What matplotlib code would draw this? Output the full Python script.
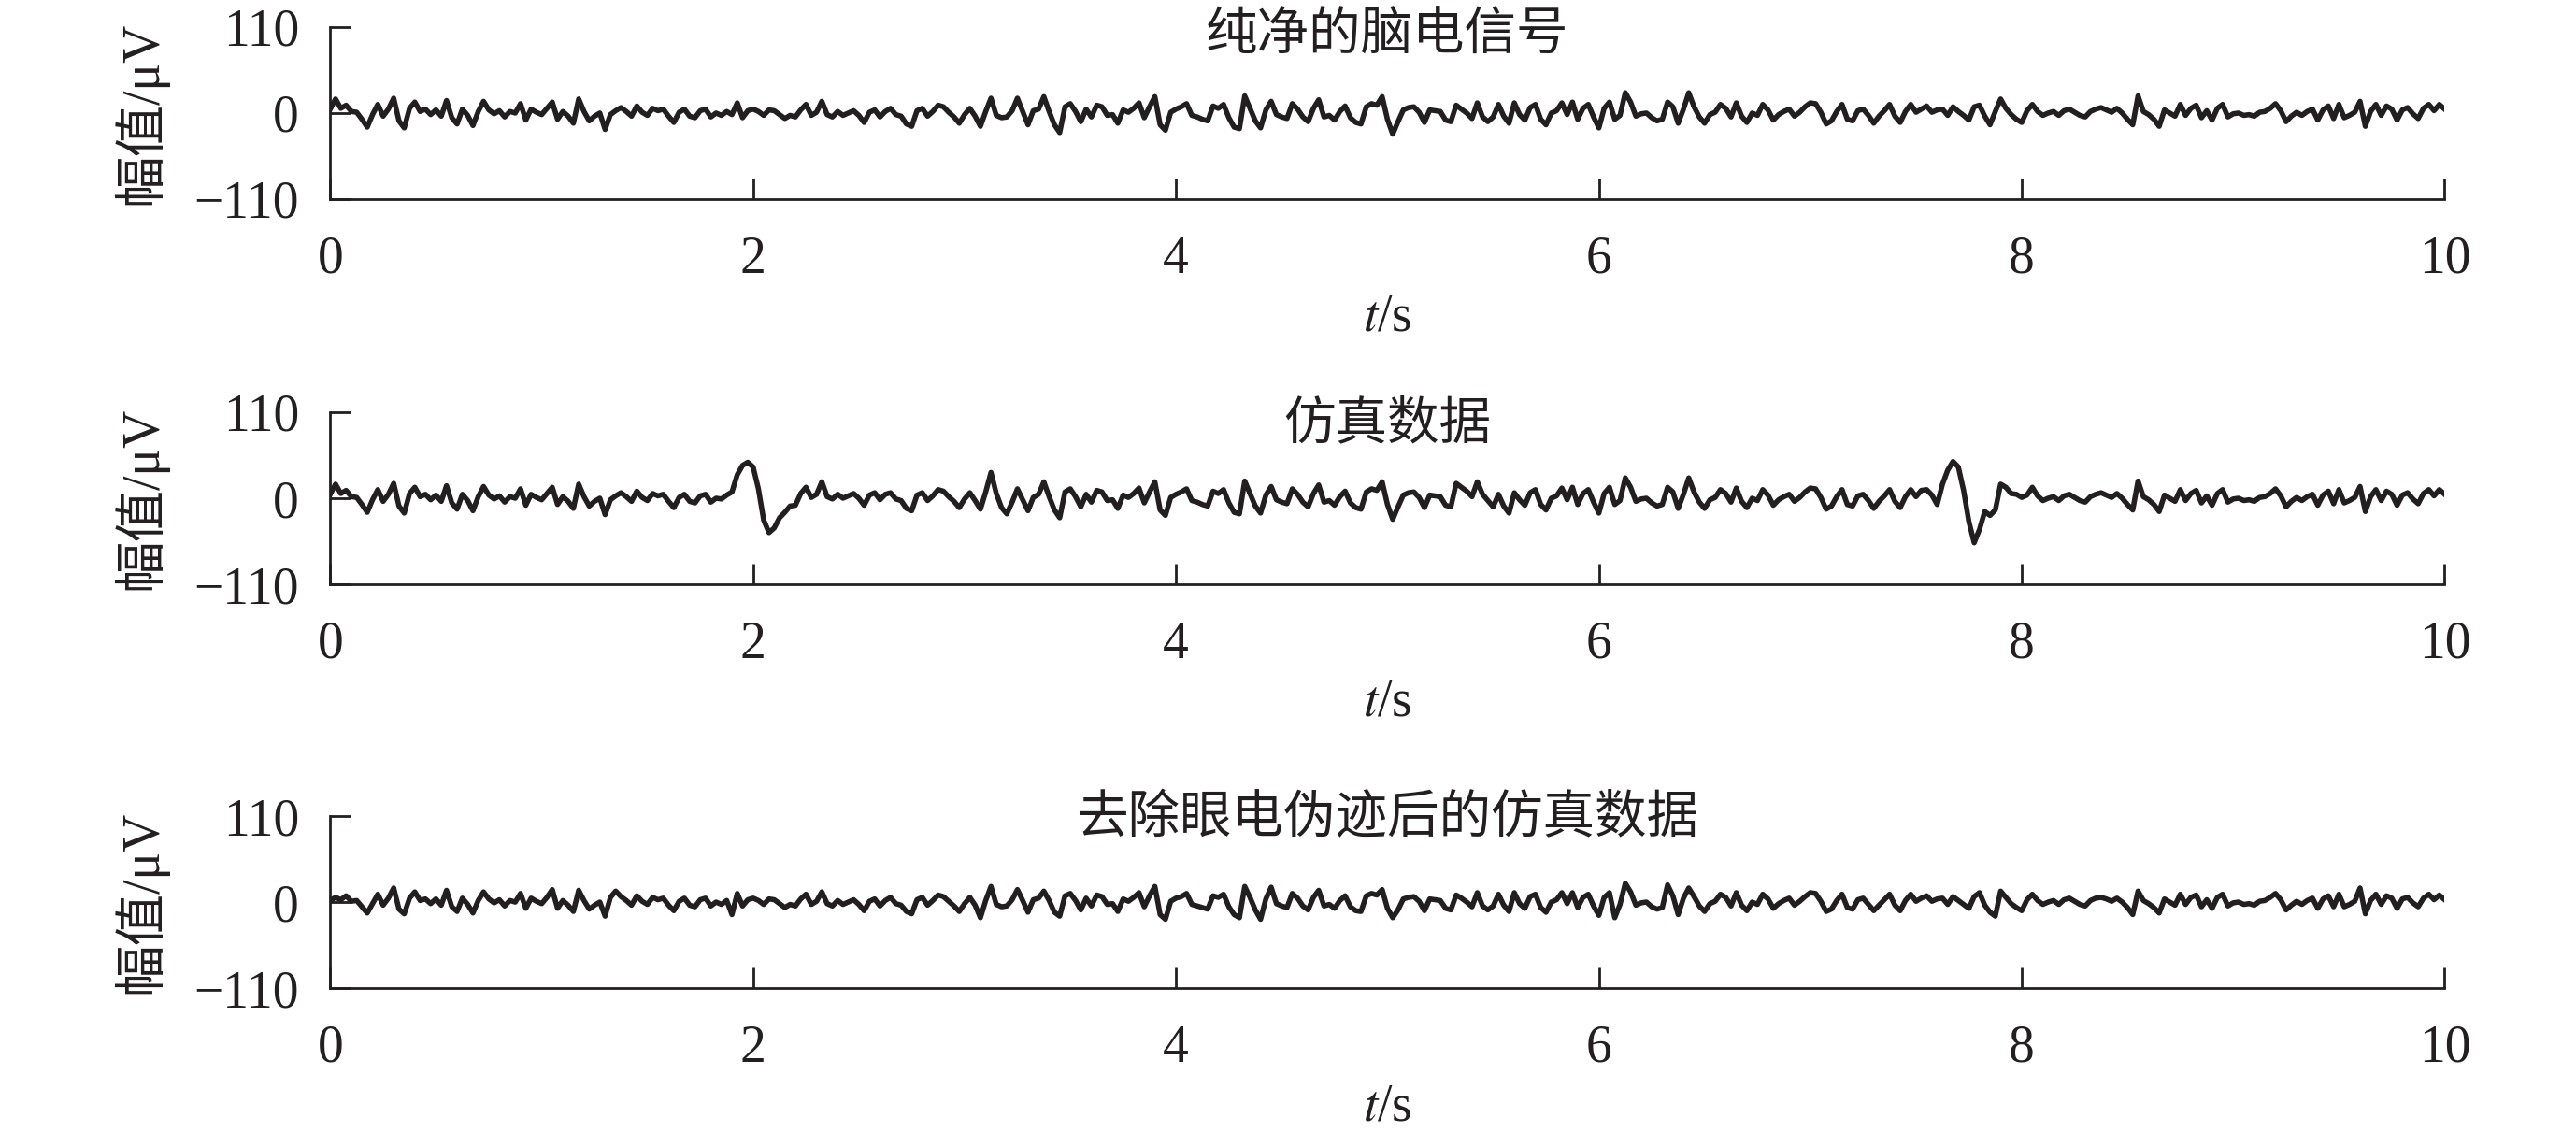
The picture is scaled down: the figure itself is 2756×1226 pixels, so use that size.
import numpy as np
import matplotlib
matplotlib.use('Agg')
import matplotlib.pyplot as plt

plt.rcParams['font.family'] = ['Liberation Serif', 'Noto Sans CJK SC']
plt.rcParams['mathtext.fontset'] = 'stix'

fs = 40  # samples per second of the traced curves

# clean EEG (uV)
eeg_clean = [5, 18, 6, 10, 2, 1, -8, -18, -2, 11,
             -4, 5, 19, -10, -19, 6, 14, 2, 5, -2,
             4, -4, 16, -6, -14, 5, -3, -16, 2, 15,
             4, -1, 3, -5, 2, 0, 12, -9, 5, 1,
             -2, 6, 14, -8, 2, -4, -13, 18, 2, -10,
             -4, 0, -21, -2, 3, 7, 2, -4, 9, 1,
             -3, 6, 3, 5, -4, -12, 1, 5, -4, -6,
             3, 5, -5, 0, -3, 2, -2, 13, -6, 3,
             5, 2, -3, 4, 3, -2, -7, -3, -5, 4,
             11, -3, 1, 15, -2, -5, 2, -3, 0, 3,
             -3, -12, 1, 4, -5, 2, 6, -2, -4, -14,
             -17, 3, 6, -4, 2, 10, 8, 1, -5, -13,
             -2, 6, -4, -17, 2, 19, -3, -6, -5, 3,
             19, 2, -15, 3, 5, 21, 2, -15, -25, 8,
             12, 2, -11, 5, -5, 10, 8, -3, -2, -13,
             4, 1, 6, 13, -6, 8, 21, -15, -22, 1,
             5, 8, 12, -3, -5, -8, -10, 9, 6, 11,
             -6, -18, -20, 22, 6, -10, -19, 4, 15, -2,
             -5, -7, 12, 5, -5, -11, 6, 17, -5, -3,
             -9, 2, 9, -6, -12, -14, 8, 12, 10, 21,
             -8, -27, -11, 4, 7, 8, 1, -12, 4, 3,
             2, -9, -11, 10, 5, 0, -7, 13, -5, -11,
             -5, 11, -4, -13, 13, -2, -9, 7, 11, -8,
             -15, 0, 3, 13, -2, 14, -8, 6, 11, -5,
             -19, 6, 14, -8, -3, 26, 14, -4, -1, 0,
             -6, -10, -8, 14, 8, -13, 5, 26, 8, -5,
             -13, -2, 1, 11, 6, -5, 13, -4, -12, 0,
             -3, 11, 4, -9, -2, 2, 5, -4, 1, 8,
             13, 12, 1, -14, -10, 2, 11, -8, -10, 3,
             5, -3, -13, -4, 3, 11, -4, -12, 2, 11,
             1, 5, 9, 1, 4, 5, -3, 8, 2, -3,
             -9, 8, 10, -4, -15, 2, 18, 6, -2, -8,
             -12, 3, 11, 2, -3, 0, 2, -3, 3, 5,
             1, -3, -5, 2, 5, 7, 4, 1, 6, 0,
             -8, -15, 22, 2, -2, -8, -17, 4, 0, -4,
             11, -3, 6, 10, -6, 3, -9, 6, 11, -5,
             -1, 0, -3, -2, -4, 1, 2, 6, 12, 3,
             -11, -4, 1, -3, 2, 5, -9, 4, 9, -7,
             11, -6, -3, 1, 15, -17, 2, 11, -3, 9,
             5, -9, 4, 7, -1, -7, 6, 11, 3, 11,
             5]

# simulated data: EEG with two eye blinks (uV)
eeg_sim = [5, 18, 6, 10, 2, 1, -8, -18, -2, 11,
           -4, 5, 19, -10, -19, 6, 14, 2, 5, -2,
           4, -4, 16, -6, -14, 5, -3, -16, 2, 15,
           4, -1, 3, -5, 2, 0, 12, -9, 5, 1,
           -2, 6, 14, -8, 2, -4, -13, 18, 2, -10,
           -4, 0, -21, -2, 3, 7, 2, -4, 9, 1,
           -3, 6, 3, 5, -4, -12, 1, 5, -4, -6,
           3, 5, -5, 0, -1, 4, 8, 30, 42, 46,
           40, 12, -28, -44, -38, -25, -18, -10, -9, 6,
           14, 1, 5, 21, 2, -1, 5, 0, 3, 6,
           0, -9, 4, 7, -2, 5, 7, -1, -3, -13,
           -16, 4, 7, -3, 3, 11, 9, 2, -4, -12,
           -1, 7, -3, -14, 8, 33, 6, -12, -20, -5,
           12, -2, -16, 1, 5, 21, 2, -15, -25, 8,
           12, 2, -11, 5, -5, 10, 8, -3, -2, -13,
           4, 1, 6, 13, -6, 8, 21, -15, -22, 1,
           5, 8, 12, -3, -5, -8, -10, 9, 6, 11,
           -6, -18, -20, 22, 6, -10, -19, 4, 15, -2,
           -5, -7, 12, 5, -5, -11, 6, 17, -5, -3,
           -9, 2, 9, -6, -12, -14, 8, 12, 10, 21,
           -8, -27, -11, 4, 7, 8, 1, -12, 4, 3,
           2, -9, -11, 19, 14, 9, 2, 21, 5, -3,
           -11, 5, -10, -19, 7, -2, -9, 7, 11, -8,
           -15, 0, 3, 13, -2, 14, -8, 6, 11, -5,
           -19, 6, 14, -8, -3, 26, 14, -4, -1, 0,
           -6, -10, -8, 14, 8, -13, 5, 26, 8, -5,
           -13, -2, 1, 11, 6, -5, 13, -4, -12, 0,
           -3, 11, 4, -9, -2, 2, 5, -4, 1, 8,
           13, 12, 1, -14, -10, 2, 11, -8, -10, 3,
           5, -3, -13, -4, 3, 11, -4, -12, 2, 11,
           2, 10, 11, 4, -8, 18, 36, 47, 40, 10,
           -30, -57, -40, -17, -22, -15, 18, 14, 6, 5,
           1, 4, 14, 3, -3, 0, 2, -3, 3, 5,
           1, -3, -5, 2, 5, 7, 4, 1, 6, 0,
           -8, -15, 22, 2, -2, -8, -17, 4, 0, -4,
           11, -3, 6, 10, -6, 3, -9, 6, 11, -5,
           -1, 0, -3, -2, -4, 1, 2, 6, 12, 3,
           -11, -4, 1, -3, 2, 5, -9, 4, 9, -7,
           11, -6, -3, 1, 15, -17, 2, 11, -3, 9,
           5, -9, 4, 7, -1, -7, 6, 11, 3, 11,
           5]

# simulated data after removing the ocular artifacts (uV)
eeg_rec = [2, 6, 3, 8, 1, 2, -6, -14, -2, 10,
           -4, 5, 18, -9, -15, 5, 13, 2, 4, -2,
           4, -4, 15, -6, -12, 5, -3, -14, 2, 13,
           4, -1, 3, -5, 2, 0, 11, -8, 5, 1,
           -2, 6, 16, -8, 2, -4, -12, 15, 2, -9,
           -4, 0, -18, 6, 14, 7, 2, -4, 8, 1,
           -3, 6, 3, 5, -4, -11, 1, 5, -4, -6,
           3, 5, -5, 0, -3, 2, -16, 11, -5, 3,
           5, 2, -3, 4, 3, -2, -7, -3, -5, 4,
           10, -3, 1, 13, -2, -5, 2, -3, 0, 3,
           -3, -11, 1, 4, -5, 2, 6, -2, -4, -12,
           -15, 3, 6, -4, 2, 9, 7, 1, -5, -12,
           -2, 6, -4, -20, 2, 20, -3, -6, -5, 3,
           16, 2, -13, 3, 5, 14, 2, -13, -18, 8,
           11, 2, -10, 5, -5, 9, 7, -3, -2, -12,
           4, 1, 6, 12, -6, 8, 20, -16, -22, 1,
           5, 7, 11, -3, -5, -7, -9, 8, 6, 10,
           -6, -16, -20, 20, 6, -10, -22, 4, 19, -2,
           -5, -7, 11, 5, -5, -10, 6, 15, -5, -3,
           -8, 2, 8, -6, -11, -12, 8, 11, 9, 16,
           -8, -20, -10, 4, 6, 7, 1, -11, 4, 3,
           2, -8, -10, 9, 5, 0, -6, 12, -5, -10,
           -5, 10, -4, -12, 12, -2, -8, 7, 10, -7,
           -13, 0, 3, 12, -2, 12, -7, 6, 10, -5,
           -17, 6, 12, -20, -3, 24, 13, -4, -1, 0,
           -6, -9, -7, 22, 8, -16, 5, 18, 7, -5,
           -12, -2, 1, 10, 6, -5, 12, -4, -11, 0,
           -3, 10, 4, -8, -2, 2, 5, -4, 1, 7,
           12, 11, 1, -12, -9, 2, 10, -7, -9, 3,
           5, -3, -11, -4, 3, 10, -4, -11, 2, 10,
           1, 5, 8, 1, 4, 5, -3, 7, 2, -3,
           -8, 7, 12, -4, -13, -18, 14, 6, -2, -7,
           -11, 3, 10, 2, -3, 0, 2, -3, 3, 5,
           1, -3, -5, 2, 5, 6, 4, 1, 5, 0,
           -7, -16, 14, 2, -2, -7, -14, 4, 0, -4,
           10, -3, 6, 9, -6, 3, -8, 6, 10, -5,
           -1, 0, -3, -2, -4, 1, 2, 6, 11, 3,
           -10, -4, 1, -3, 2, 5, -8, 4, 8, -6,
           10, -6, -3, 1, 18, -15, 2, 10, -3, 8,
           5, -8, 4, 6, -1, -6, 5, 10, 3, 9,
           3]

titles = ['纯净的脑电信号', '仿真数据', '去除眼电伪迹后的仿真数据']
xticks = [0, 2, 4, 6, 8, 10]
yticks = [-110, 0, 110]
ink = '#231f20'

fig = plt.figure(figsize=(13.78, 6.13), dpi=200)
bottoms = [0.8263, 0.4902, 0.1378]
title_y = [0.94, 0.92, 0.98]

for k, sig in enumerate([eeg_clean, eeg_sim, eeg_rec]):
    ax = fig.add_axes([0.1282, bottoms[k], 0.8208, 0.1501])
    t = np.arange(len(sig)) / fs
    ax.plot(t, sig, color=ink, lw=2.0)
    ax.set_xlim(0, 10)
    ax.set_ylim(-110, 110)
    ax.set_xticks(xticks)
    ax.set_yticks(yticks)
    for s in ['top', 'right']:
        ax.spines[s].set_visible(False)
    for s in ['left', 'bottom']:
        ax.spines[s].set_color(ink)
        ax.spines[s].set_linewidth(1.0)
    ax.tick_params(axis='both', direction='in', length=8, width=1.0,
                   colors=ink, labelsize=20)
    ax.tick_params(axis='x', pad=14)
    ax.tick_params(axis='y', pad=12)
    ax.set_ylabel('幅值/μV', fontsize=20, color=ink, va='center')
    ax.yaxis.set_label_coords(-0.09, 0.5)
    ax.set_xlabel('$t$/s', fontsize=20, color=ink, va='center')
    ax.xaxis.set_label_coords(0.5, -0.69)
    ax.text(0.5, title_y[k], titles[k], transform=ax.transAxes,
            ha='center', va='center', fontsize=20, color=ink)

fig.savefig('out.png', dpi=200)
